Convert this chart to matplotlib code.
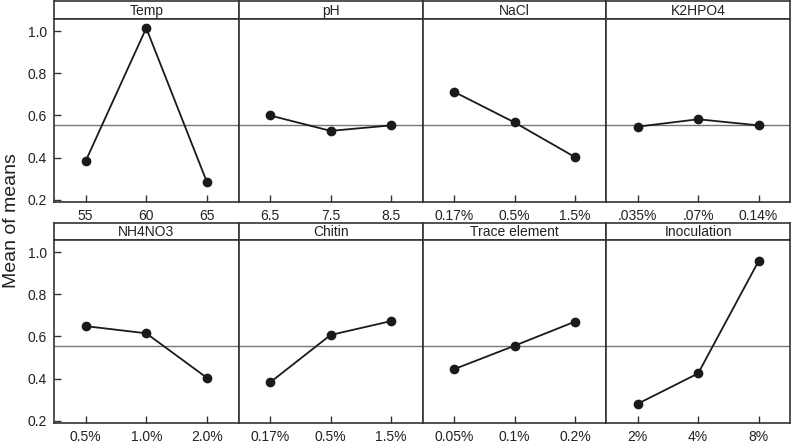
import matplotlib.pyplot as plt
import numpy as np

plt.rcParams["font.family"] = ["Liberation Sans", "DejaVu Sans"]

W, H = 791, 443

FACTORS = ["Temp", "pH", "NaCl", "K2HPO4",
           "NH4NO3", "Chitin", "Trace element", "Inoculation"]
LEVELS = [
    ["55", "60", "65"],
    ["6.5", "7.5", "8.5"],
    ["0.17%", "0.5%", "1.5%"],
    [".035%", ".07%", "0.14%"],
    ["0.5%", "1.0%", "2.0%"],
    ["0.17%", "0.5%", "1.5%"],
    ["0.05%", "0.1%", "0.2%"],
    ["2%", "4%", "8%"],
]
MEANS = [
    [0.383, 1.014, 0.284],
    [0.600, 0.527, 0.553],
    [0.712, 0.567, 0.403],
    [0.547, 0.582, 0.553],
    [0.649, 0.615, 0.404],
    [0.382, 0.607, 0.673],
    [0.445, 0.556, 0.670],
    [0.281, 0.425, 0.957],
]
GRAND_MEAN = 0.557

COL_EDGES = [54, 238.5, 422.7, 606.3, 790]
# (header top, header bottom, plot bottom) in pixels
ROWS = [(1, 19, 202), (223, 240, 423)]

EDGE = "#333333"


def px_box(x0, x1, y0, y1):
    return [x0 / W, 1 - y1 / H, (x1 - x0) / W, (y1 - y0) / H]


def main():
    fig = plt.figure(figsize=(W / 100, H / 100), dpi=100)

    for i, name in enumerate(FACTORS):
        r, c = divmod(i, 4)
        ht, hb, pb = ROWS[r]
        x0, x1 = COL_EDGES[c], COL_EDGES[c + 1]

        # header strip
        hax = fig.add_axes(px_box(x0, x1, ht, hb))
        hax.set_xticks([])
        hax.set_yticks([])
        for s in hax.spines.values():
            s.set_color(EDGE)
            s.set_linewidth(1.2)
        hax.text(0.5, 0.45, name, ha="center", va="center",
                 fontsize=10, color="#222222", transform=hax.transAxes)

        ax = fig.add_axes(px_box(x0, x1, hb, pb))
        xs = np.arange(1, 4)
        ax.axhline(GRAND_MEAN, color="#777777", lw=1.0, zorder=1)
        ax.plot(xs, MEANS[i], color="#1a1a1a", lw=1.3, marker="o",
                markersize=6, zorder=3)
        ax.set_xlim(0.48, 3.52)
        ax.set_ylim(0.19, 1.057)
        ax.set_xticks(xs)
        ax.set_xticklabels(LEVELS[i])
        ax.set_yticks([0.2, 0.4, 0.6, 0.8, 1.0])
        ax.tick_params(direction="in", length=5, width=1, color=EDGE,
                       labelsize=10, labelcolor="#222222", pad=5)
        if c == 0:
            ax.set_yticklabels(["0.2", "0.4", "0.6", "0.8", "1.0"])
        else:
            ax.tick_params(axis="y", left=False, labelleft=False)
        for s in ax.spines.values():
            s.set_color(EDGE)
            s.set_linewidth(1.2)

    fig.text(12 / W, 1 - 221 / H, "Mean of means", rotation=90,
             ha="center", va="center", fontsize=14, color="#222222")

    fig.savefig("out.png", dpi=100)


if __name__ == "__main__":
    main()
